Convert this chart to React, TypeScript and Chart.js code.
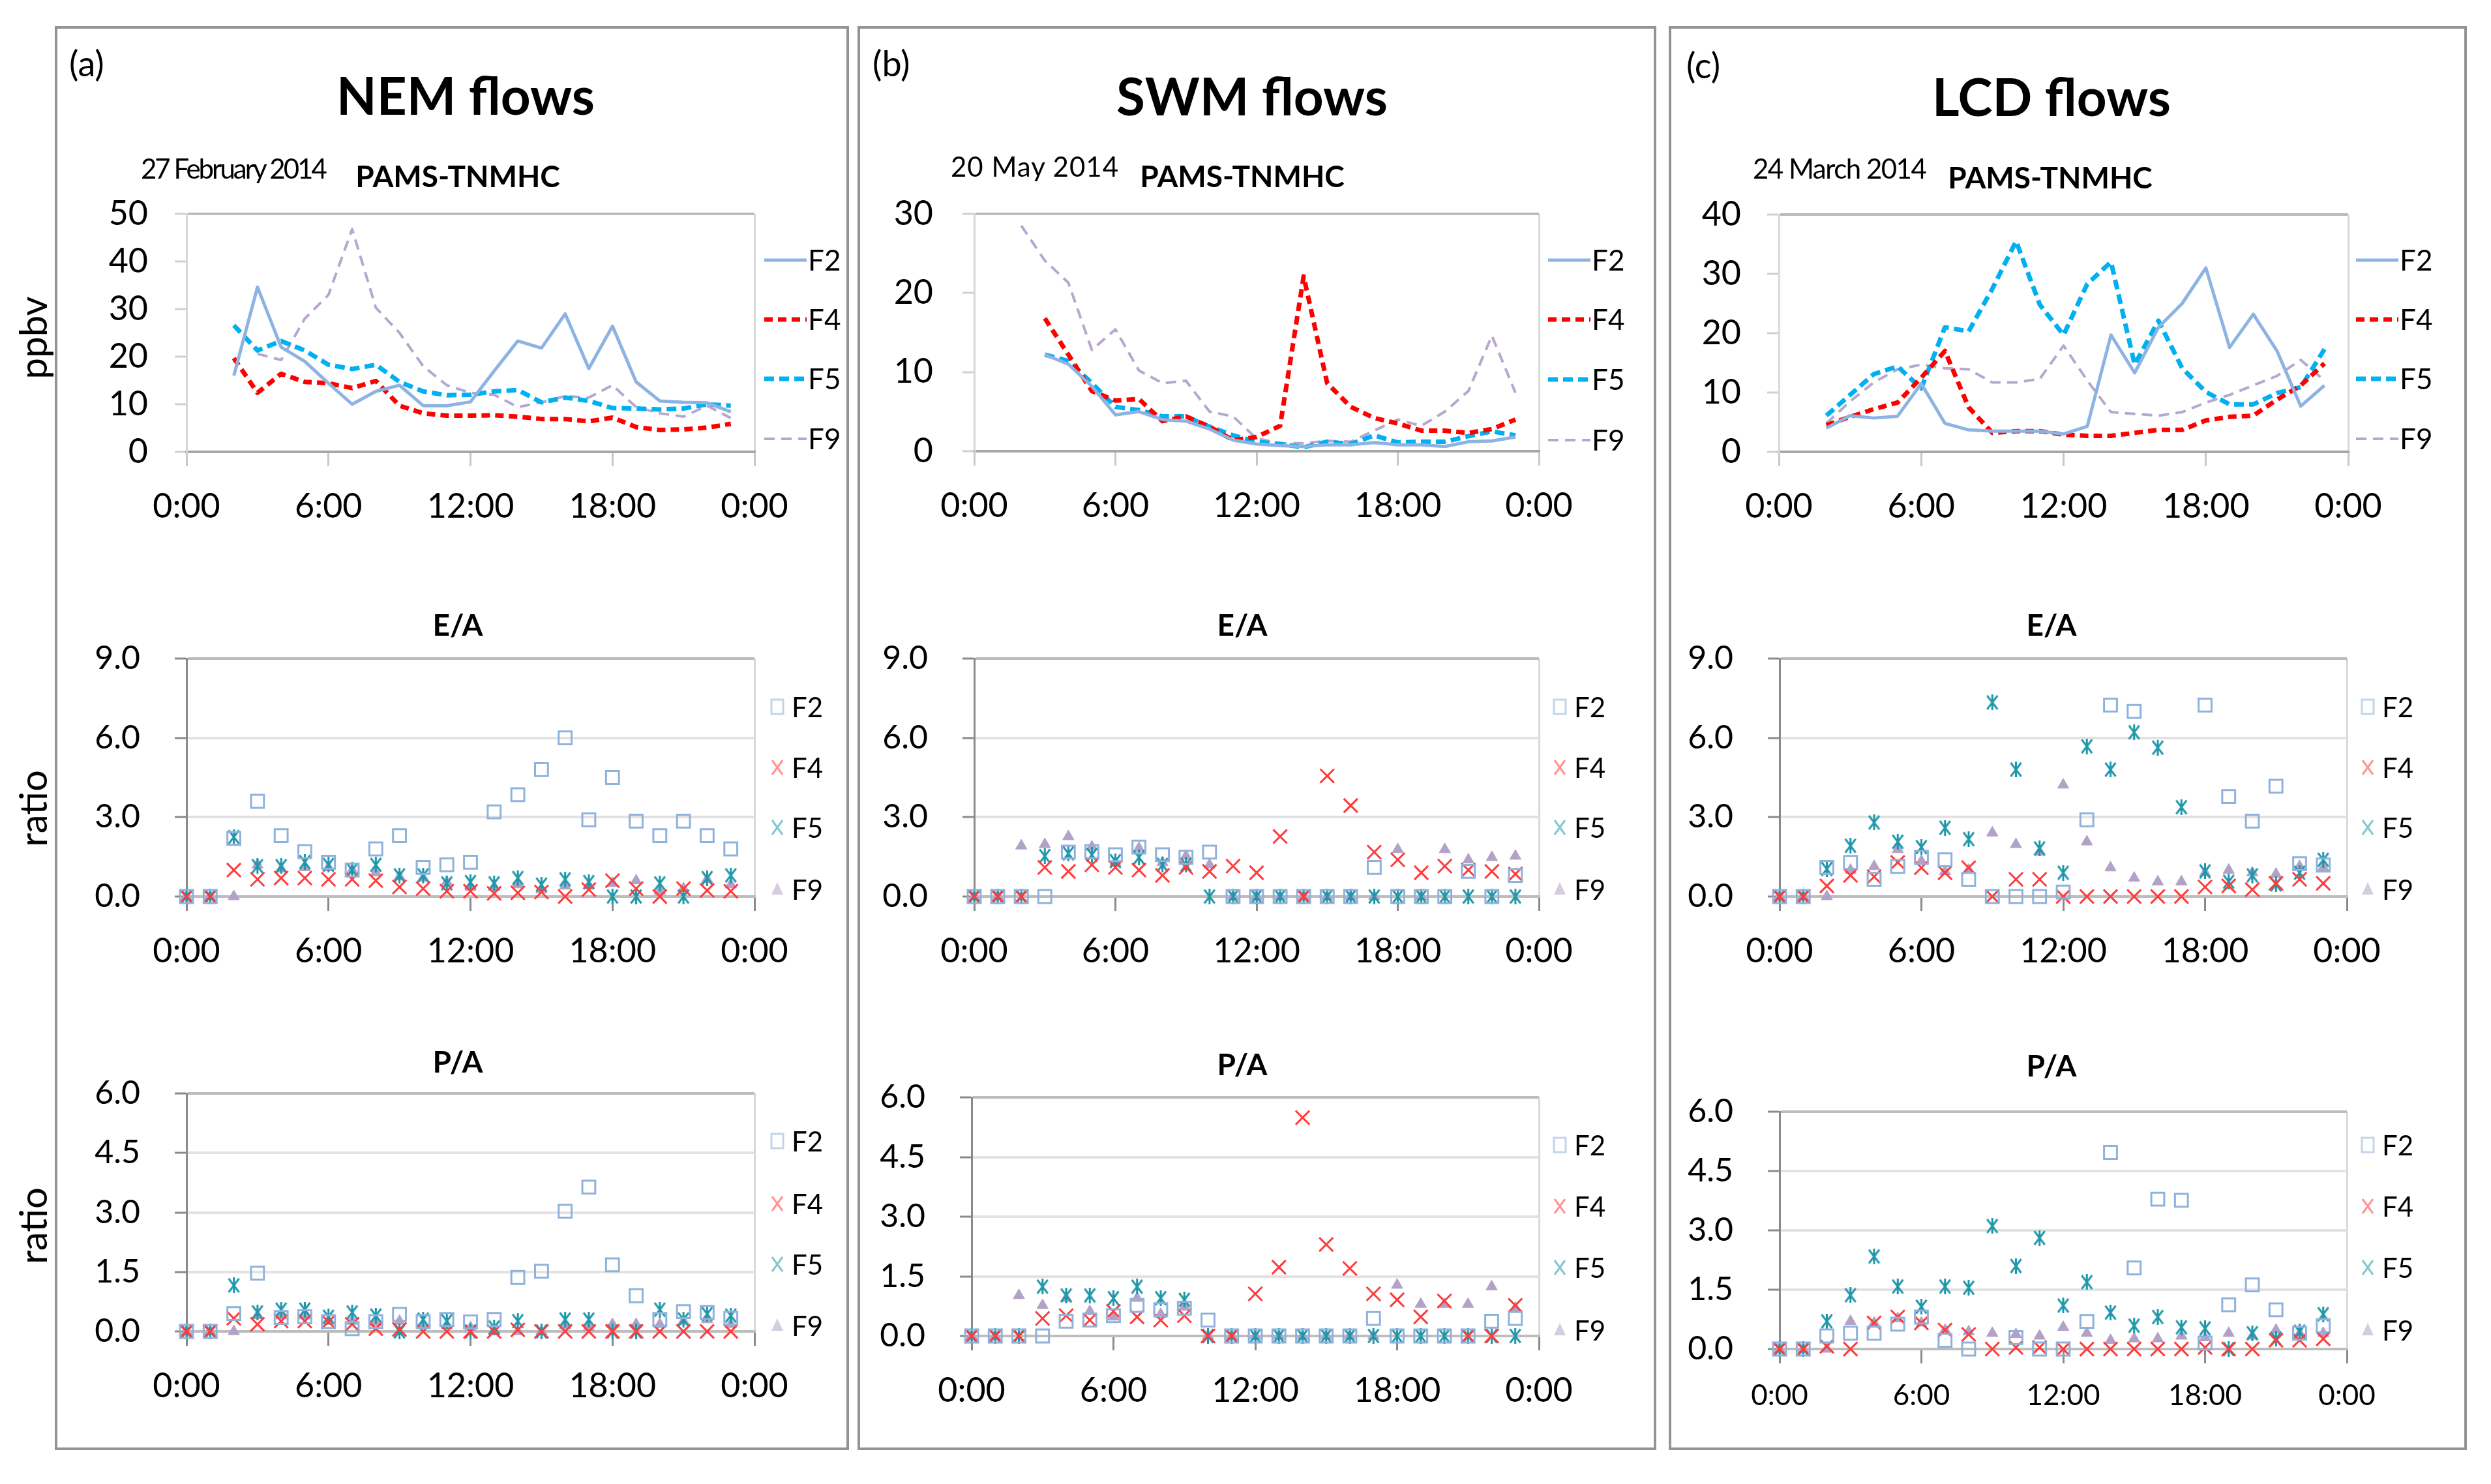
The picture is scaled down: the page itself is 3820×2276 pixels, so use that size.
import React, { useEffect, useRef } from 'react';
import { Chart, registerables } from 'chart.js';

Chart.register(...registerables);

const FONT = 'Lato, "Open Sans", sans-serif';

// ---------- shared categories / ticks ----------
const HOURS = [0, 1, 2, 3, 4, 5, 6, 7, 8, 9, 10, 11, 12, 13, 14, 15, 16, 17, 18, 19, 20, 21, 22, 23];
const X_TICK_VALUES = [0, 6, 12, 18, 24];
const X_TICK_LABELS = ['0:00', '6:00', '12:00', '18:00', '0:00'];
const SERIES_NAMES = ['F2', 'F4', 'F5', 'F9'];

const PANEL_LETTERS = ['(a)', '(b)', '(c)'];
const PANEL_TITLES = ['NEM flows', 'SWM flows', 'LCD flows'];
const PANEL_DATES = ['27 February 2014', '20 May 2014', '24 March 2014'];
const TOP_SUBTITLE = 'PAMS-TNMHC';
const EA_TITLE = 'E/A';
const PA_TITLE = 'P/A';

const NEM_Y_TICKS = [0, 10, 20, 30, 40, 50];
const SWM_Y_TICKS = [0, 10, 20, 30];
const LCD_Y_TICKS = [0, 10, 20, 30, 40];
const EA_Y_TICKS = [0, 3, 6, 9];
const PA_Y_TICKS = [0, 1.5, 3, 4.5, 6];

// ---------- (a) NEM, PAMS-TNMHC (ppbv) ----------
const NEM_F2 = [null, null, 16, 34.6, 22, 19, 14.4, 10, 12.7, 14, 9.7, 9.7, 10.5, 17, 23.3, 21.8, 29, 17.5, 26.4, 14.7, 10.7, 10.4, 10.3, 8.4];
const NEM_F4 = [null, null, 19.7, 12.4, 16.4, 14.7, 14.4, 13.4, 14.9, 9.7, 8.1, 7.6, 7.6, 7.7, 7.4, 6.9, 6.9, 6.4, 7.2, 5.2, 4.6, 4.7, 5.1, 5.9];
const NEM_F5 = [null, null, 26.6, 21.3, 23.3, 21.3, 18.3, 17.4, 18.3, 14.7, 12.7, 11.9, 12, 12.7, 13, 10.4, 11.4, 10.7, 9.2, 9.1, 8.9, 9.1, 10, 9.7];
const NEM_F9 = [null, null, null, 20.6, 19.3, 28, 33, 46.8, 30.3, 25, 18, 14, 12.4, 12, 9.4, 10.4, 11.7, 11.4, 14, 9.4, 8.1, 7.4, 9.7, 7.1];

// ---------- (b) SWM ----------
const SWM_F2 = [null, null, null, 12.2, 11, 8.2, 4.6, 5, 4, 3.8, 2.8, 1.4, 0.9, 0.7, 0.6, 0.8, 0.8, 1.1, 0.8, 0.8, 0.6, 1.2, 1.3, 1.8];
const SWM_F4 = [null, null, null, 16.8, 12.2, 7.6, 6.4, 6.6, 3.8, 4.4, 3.1, 1.4, 1.8, 3.2, 22.1, 8.6, 5.6, 4.2, 3.5, 2.6, 2.6, 2.3, 2.8, 4];
const SWM_F5 = [null, null, null, 12.2, 11.4, 8.6, 5.6, 5.2, 4.4, 4.4, 3.1, 2, 1.2, 0.9, 0.5, 1.2, 0.9, 2, 1.1, 1.2, 1.2, 1.9, 2.5, 2];
const SWM_F9 = [null, null, 28.5, 24.1, 21.3, 12.8, 15.4, 10.2, 8.6, 8.9, 5, 4.4, 1.6, 1, 1, 1.3, 1.2, 2.6, 4, 3.2, 5, 7.6, 14.6, 7.4];

// ---------- (c) LCD ----------
const LCD_F2 = [null, null, 4, 6.1, 5.7, 6, 11.5, 4.8, 3.7, 3.5, 3.5, 3.5, 3, 4.3, 19.7, 13.3, 21, 25, 31, 17.6, 23.2, 17, 7.7, 11.2];
const LCD_F4 = [null, null, 4.5, 5.9, 7.2, 8.3, 12.5, 17, 7.5, 3.2, 3.5, 3.5, 2.9, 2.7, 2.7, 3.2, 3.7, 3.7, 5.3, 5.9, 6.1, 8.8, 11.2, 14.9];
const LCD_F5 = [null, null, 6.1, 9.6, 13.1, 14.4, 10.7, 21, 20.3, 27.5, 35.5, 24.8, 19.7, 28.3, 32, 14.7, 22.1, 14.1, 10.1, 8, 8, 9.9, 10.9, 17.3];
const LCD_F9 = [null, null, 4.8, 8.5, 11.7, 13.9, 14.7, 14.1, 13.9, 11.7, 11.7, 12.3, 17.9, 12, 6.7, 6.4, 6.1, 6.7, 8.3, 9.6, 11.2, 12.8, 15.5, 12];

// ---------- E/A ratios ----------
const NEM_EA_F2 = [0, 0, 2.2, 3.6, 2.3, 1.7, 1.3, 1.0, 1.8, 2.3, 1.1, 1.2, 1.3, 3.2, 3.85, 4.8, 6.0, 2.9, 4.5, 2.85, 2.3, 2.85, 2.3, 1.8];
const NEM_EA_F4 = [0, 0, 1.0, 0.65, 0.7, 0.7, 0.65, 0.65, 0.6, 0.36, 0.3, 0.2, 0.2, 0.12, 0.14, 0.17, 0, 0.26, 0.6, 0.3, 0, 0.3, 0.23, 0.2];
const NEM_EA_F5 = [0, 0, 2.25, 1.15, 1.15, 1.3, 1.2, 1.0, 1.2, 0.8, 0.8, 0.5, 0.55, 0.5, 0.7, 0.45, 0.65, 0.55, 0, 0, 0.5, 0, 0.7, 0.8];
const NEM_EA_F9 = [0, 0, 0, 1.2, 1.05, 1.1, 1.1, 1.0, 0.9, 0.75, 0.7, 0.55, 0.36, 0.36, 0.45, 0.26, 0.4, 0.4, 0.5, 0.6, 0.2, 0.3, 0.65, 0.45];

const SWM_EA_F2 = [0, 0, 0, 0, 1.68, 1.7, 1.58, 1.87, 1.58, 1.48, 1.68, 0, 0, 0, 0, 0, 0, 1.1, 0, 0, 0, 0.95, 0, 0.8];
const SWM_EA_F4 = [0, 0, 0, 1.1, 0.95, 1.2, 1.1, 1.0, 0.8, 1.1, 0.95, 1.15, 0.9, 2.27, 0, 4.56, 3.44, 1.68, 1.39, 0.9, 1.15, 1.0, 0.95, 0.85];
const SWM_EA_F5 = [0, 0, 0, 1.53, 1.63, 1.58, 1.34, 1.48, 1.2, 1.2, 0, 0, 0, 0, 0, 0, 0, 0, 0, 0, 0, 0, 0, 0];
const SWM_EA_F9 = [0, 0, 1.92, 1.97, 2.27, 1.88, 1.29, 1.83, 1.29, 1.53, 1.2, 0, 0, 0, 0, 0, 0, 0, 1.78, 0, 1.78, 1.39, 1.48, 1.53];

const LCD_EA_F2 = [0, 0, 1.1, 1.29, 0.65, 1.14, 1.48, 1.39, 0.65, 0, 0, 0, 0.17, 2.9, 7.24, 7.0, null, null, 7.24, 3.78, 2.85, 4.17, 1.24, 1.19];
const LCD_EA_F4 = [0, 0, 0.4, 0.8, 0.75, 1.29, 1.09, 0.9, 1.09, 0, 0.65, 0.65, 0, 0, 0, 0, 0, 0, 0.36, 0.4, 0.26, 0.5, 0.65, 0.5];
const LCD_EA_F5 = [0, 0, 1.04, 1.92, 2.8, 2.07, 1.87, 2.6, 2.17, 7.34, 4.8, 1.82, 0.9, 5.68, 4.8, 6.21, 5.63, 3.38, 0.95, 0.56, 0.8, 0.46, 0.9, 1.39];
const LCD_EA_F9 = [0, 0, 0, 1.0, 1.14, 1.78, 1.34, 0.95, 1.0, 2.41, 1.97, 1.68, 4.22, 2.07, 1.09, 0.7, 0.56, 0.56, 0.9, 1.0, 0.9, 0.85, 1.14, 1.09];

// ---------- P/A ratios ----------
const NEM_PA_F2 = [0, 0, 0.45, 1.47, 0.35, 0.37, 0.25, 0.07, 0.25, 0.43, 0.25, 0.3, 0.24, 0.3, 1.36, 1.52, 3.03, 3.64, 1.68, 0.9, 0.3, 0.5, 0.48, 0.33];
const NEM_PA_F4 = [0, 0, 0.33, 0.18, 0.26, 0.26, 0.24, 0.18, 0.07, 0.05, 0, 0, 0, 0, 0.04, 0, 0, 0, 0, 0, 0, 0, 0, 0];
const NEM_PA_F5 = [0, 0, 1.16, 0.48, 0.55, 0.55, 0.37, 0.48, 0.4, 0, 0.3, 0.26, 0, 0.1, 0.26, 0, 0.3, 0.3, 0, 0, 0.55, 0.3, 0.44, 0.4];
const NEM_PA_F9 = [0, 0, 0, 0.4, 0.4, 0.4, 0.26, 0.26, 0.22, 0.26, 0.18, 0.15, 0.1, 0, 0, 0, 0.15, 0.1, 0.18, 0.18, 0.18, 0.26, 0.3, 0.18];

const SWM_PA_F2 = [0, 0, 0, 0, 0.37, 0.4, 0.51, 0.77, 0.66, 0.7, 0.4, 0, 0, 0, 0, 0, 0, 0.44, 0, 0, 0, 0, 0.37, 0.44];
const SWM_PA_F4 = [0, 0, 0, 0.44, 0.51, 0.4, 0.62, 0.48, 0.4, 0.51, 0, 0, 1.06, 1.73, 5.49, 2.3, 1.7, 1.06, 0.91, 0.48, 0.88, 0, 0, 0.77];
const SWM_PA_F5 = [0, 0, 0, 1.24, 1.02, 1.02, 0.95, 1.24, 0.95, 0.91, 0, 0, 0, 0, 0, 0, 0, 0, 0, 0, 0, 0, 0, 0];
const SWM_PA_F9 = [0, 0, 1.02, 0.77, 0.95, 0.62, 0.48, 0.95, 0.55, 0.73, 0, 0, 0, 0, 0, 0, 0, 0, 1.28, 0.8, 0.8, 0.8, 1.24, 0.7];

const LCD_PA_F2 = [0, 0, 0.33, 0.4, 0.4, 0.63, 0.81, 0.22, 0, null, 0.29, 0, 0, 0.7, 4.97, 2.05, 3.79, 3.76, 0.15, 1.12, 1.62, 0.99, 0.4, 0.59];
const LCD_PA_F4 = [0, 0, 0.07, 0, 0.66, 0.81, 0.66, 0.48, 0.37, 0, 0.04, 0.04, 0, 0, 0, 0, 0, 0, 0.04, 0, 0, 0.22, 0.22, 0.26];
const LCD_PA_F5 = [0, 0, 0.7, 1.36, 2.34, 1.58, 1.07, 1.58, 1.55, 3.11, 2.1, 2.81, 1.1, 1.69, 0.92, 0.59, 0.81, 0.55, 0.52, 0, 0.4, 0.26, 0.44, 0.88];
const LCD_PA_F9 = [0, 0, 0, 0.7, 0.66, 0.77, 0.66, 0.48, 0.44, 0.4, 0.37, 0.33, 0.55, 0.4, 0.22, 0.26, 0.26, 0.33, 0.29, 0.4, 0.33, 0.48, 0.4, 0.4];

// ---------- styles ----------
const LINE_STYLE = [
  { color: '#8DB3E2', width: 5, dash: [] as number[] },
  { color: '#FF0000', width: 7, dash: [13, 8] },
  { color: '#00B0F0', width: 7, dash: [15, 8] },
  { color: '#B7A6CF', width: 4, dash: [16, 10] },
];
const MARK_COLORS = ['#8FB2DC', '#FF3B3B', '#1F97AA', '#B3A2C7'];

// canvas frame around chart area
const YW = 160;
const PT = 120;
const XH = 130;
const PR = 200;

type Spec = {
  kind: 'line' | 'scatter';
  area: [number, number, number, number];
  yTicks: number[];
  yDec: number;
  series: (number | null)[][];
  legendX: number;
  legendYs: number[];
  yPad: number;
  xFont?: number;
  xPad?: number;
};

function makeStar(color: string, w: number, h: number, lw: number): HTMLCanvasElement {
  const c = document.createElement('canvas');
  c.width = w;
  c.height = h;
  const g = c.getContext('2d')!;
  g.strokeStyle = color;
  g.lineWidth = lw;
  g.beginPath();
  g.moveTo(lw / 2, lw / 2);
  g.lineTo(w - lw / 2, h - lw / 2);
  g.moveTo(w - lw / 2, lw / 2);
  g.lineTo(lw / 2, h - lw / 2);
  g.moveTo(w / 2, 0);
  g.lineTo(w / 2, h);
  g.stroke();
  return c;
}

function drawMarker(ctx: CanvasRenderingContext2D, i: number, x: number, y: number) {
  const col = MARK_COLORS[i];
  ctx.save();
  ctx.globalAlpha = 0.55;
  ctx.lineWidth = 3;
  ctx.strokeStyle = col;
  ctx.fillStyle = col;
  ctx.setLineDash([]);
  ctx.beginPath();
  if (i === 0) {
    ctx.strokeRect(x - 9, y - 11, 18, 22);
  } else if (i === 1 || i === 2) {
    ctx.moveTo(x - 8, y - 11); ctx.lineTo(x + 8, y + 11);
    ctx.moveTo(x + 8, y - 11); ctx.lineTo(x - 8, y + 11);
    ctx.stroke();
  } else {
    ctx.moveTo(x, y - 11); ctx.lineTo(x + 9, y + 8); ctx.lineTo(x - 9, y + 8); ctx.closePath();
    ctx.fill();
  }
  ctx.restore();
}

const sideLegend = {
  id: 'sideLegend',
  afterDraw(chart: any, _args: any, opts: any) {
    const ctx: CanvasRenderingContext2D = chart.ctx;
    ctx.save();
    ctx.textBaseline = 'middle';
    ctx.textAlign = 'left';
    ctx.fillStyle = '#000';
    SERIES_NAMES.forEach((name, i) => {
      const y = opts.legendYs[i] - opts.oy;
      const x = opts.legendX - opts.ox;
      if (opts.kind === 'line') {
        const st = LINE_STYLE[i];
        ctx.save();
        ctx.strokeStyle = st.color;
        ctx.lineWidth = st.width;
        ctx.setLineDash(st.dash);
        ctx.beginPath();
        ctx.moveTo(x, y);
        ctx.lineTo(x + 65, y);
        ctx.stroke();
        ctx.restore();
        ctx.font = `44px ${FONT}`;
        ctx.fillStyle = '#000';
        ctx.fillText(name, x + 67, y + 2);
      } else {
        drawMarker(ctx, i, x, y);
        ctx.font = `42px ${FONT}`;
        ctx.fillStyle = '#000';
        ctx.fillText(name, x + 22, y + 2);
      }
    });
    ctx.restore();
  },
};

function ChartBox({ spec }: { spec: Spec }) {
  const ref = useRef<HTMLCanvasElement>(null);
  const [l, t, r, b] = spec.area;
  const cw = r - l + YW + PR;
  const ch = b - t + PT + XH;
  const ox = l - YW;
  const oy = t - PT;

  useEffect(() => {
    const isLine = spec.kind === 'line';
    const yMax = spec.yTicks[spec.yTicks.length - 1];
    const star = makeStar(MARK_COLORS[2], 19, 24, 3);

    const datasets = spec.series.map((vals, i) => {
      const data = HOURS.map((h, k) => ({ x: h, y: vals[k] })).filter((p) => p.y !== null);
      if (isLine) {
        const st = LINE_STYLE[i];
        return {
          label: SERIES_NAMES[i],
          data,
          borderColor: st.color,
          borderWidth: st.width,
          borderDash: st.dash,
          pointRadius: 0,
          tension: 0,
          fill: false,
          clip: false as any,
          borderJoinStyle: 'round' as const,
        };
      }
      const base: any = { label: SERIES_NAMES[i], data, clip: false, pointHoverRadius: 0 };
      if (i === 0) Object.assign(base, { pointStyle: 'rect', pointRadius: 14, borderColor: MARK_COLORS[0], backgroundColor: 'rgba(0,0,0,0)', borderWidth: 3 });
      if (i === 1) Object.assign(base, { pointStyle: 'crossRot', pointRadius: 15, borderColor: MARK_COLORS[1], backgroundColor: MARK_COLORS[1], borderWidth: 3 });
      if (i === 2) Object.assign(base, { pointStyle: star, pointRadius: 12, borderColor: MARK_COLORS[2], backgroundColor: MARK_COLORS[2] });
      if (i === 3) Object.assign(base, { pointStyle: 'triangle', pointRadius: 10, borderColor: MARK_COLORS[3], backgroundColor: MARK_COLORS[3], borderWidth: 1 });
      return base;
    });

    const padding = { top: PT, right: PR, left: 0, bottom: 0 };

    const chart = new Chart(ref.current!, {
      type: isLine ? 'line' : 'scatter',
      data: { datasets },
      plugins: [sideLegend as any],
      options: {
        animation: false,
        responsive: false,
        devicePixelRatio: 1,
        events: [],
        layout: { autoPadding: false, padding },
        plugins: {
          legend: { display: false },
          title: { display: false },
          tooltip: { enabled: false },
          sideLegend: { kind: spec.kind, legendX: spec.legendX, legendYs: spec.legendYs, ox, oy },
        } as any,
        scales: {
          x: {
            type: 'linear',
            min: 0,
            max: 24,
            afterFit: (s: any) => { s.height = XH; },
            afterBuildTicks: (s: any) => { s.ticks = X_TICK_VALUES.map((v) => ({ value: v })); },
            ticks: {
              autoSkip: false,
              maxRotation: 0,
              padding: spec.xPad ?? 31,
              color: '#000',
              font: { family: FONT, size: spec.xFont ?? 52 },
              callback: (v: any) => X_TICK_LABELS[X_TICK_VALUES.indexOf(Number(v))] ?? '',
            },
            grid: {
              display: true,
              drawOnChartArea: true,
              drawTicks: true,
              tickLength: 22,
              tickWidth: 3,
              tickColor: isLine ? '#c8c8c8' : '#8a8a8a',
              lineWidth: 3,
              color: (c: any) => (c.tick && c.tick.value === 24 ? '#d9d9d9' : 'rgba(0,0,0,0)'),
            },
            border: { display: true, color: isLine ? '#a6a6a6' : '#bdbdbd', width: 4 },
          },
          y: {
            type: 'linear',
            min: 0,
            max: yMax,
            afterFit: (s: any) => { s.width = YW; },
            afterBuildTicks: (s: any) => { s.ticks = spec.yTicks.map((v) => ({ value: v })); },
            ticks: {
              padding: spec.yPad,
              color: '#000',
              font: { family: FONT, size: isLine ? 52 : 50 },
              callback: (v: any) => Number(v).toFixed(spec.yDec),
            },
            grid: {
              display: true,
              drawOnChartArea: true,
              drawTicks: true,
              tickLength: 18,
              tickWidth: 3,
              tickColor: isLine ? '#d0d0d0' : '#8a8a8a',
              lineWidth: 4,
              color: (c: any) => {
                const v = c.tick ? c.tick.value : -1;
                if (v === yMax) return '#bcbcbc';
                if (isLine || v === 0) return 'rgba(0,0,0,0)';
                return '#e2e2e2';
              },
            },
            border: { display: true, color: isLine ? '#d9d9d9' : '#8a8a8a', width: 3 },
          },
        },
      } as any,
    });

    // make the plot area (the scales' pixel range) land where the reference has it
    const want = { left: YW, top: PT, right: cw - PR, bottom: ch - XH };
    for (let k = 0; k < 5; k++) {
      const ys: any = chart.scales.y;
      const xs: any = chart.scales.x;
      const top = ys.getPixelForValue(yMax);
      const bottom = ys.getPixelForValue(0);
      const left = xs.getPixelForValue(0);
      const right = xs.getPixelForValue(24);
      const dl = want.left - left;
      const dt = want.top - top;
      const dr = right - want.right;
      const db = bottom - want.bottom;
      if (Math.abs(dl) < 0.5 && Math.abs(dt) < 0.5 && Math.abs(dr) < 0.5 && Math.abs(db) < 0.5) break;
      const p: any = (chart.config.options as any).layout.padding;
      p.left += dl;
      p.top += dt;
      p.right += dr;
      p.bottom += db;
      chart.update();
    }
    return () => chart.destroy();
  }, []);

  return (
    <canvas
      ref={ref}
      width={cw}
      height={ch}
      style={{ position: 'absolute', left: ox, top: oy, width: cw, height: ch }}
    />
  );
}

const TOP_LEG = [399, 490, 581, 673];
const EA_LEG = [1084, 1177, 1269, 1364];

const SPECS: Spec[] = [
  { kind: 'line', area: [286, 328, 1157, 693], yTicks: NEM_Y_TICKS, yDec: 0, series: [NEM_F2, NEM_F4, NEM_F5, NEM_F9], legendX: 1172, legendYs: TOP_LEG, yPad: 41 },
  { kind: 'scatter', area: [286, 1010, 1157, 1375], yTicks: EA_Y_TICKS, yDec: 1, series: [NEM_EA_F2, NEM_EA_F4, NEM_EA_F5, NEM_EA_F9], legendX: 1192, legendYs: EA_LEG, yPad: 53 },
  { kind: 'scatter', area: [286, 1677, 1157, 2042], yTicks: PA_Y_TICKS, yDec: 1, series: [NEM_PA_F2, NEM_PA_F4, NEM_PA_F5, NEM_PA_F9], legendX: 1192, legendYs: [1750, 1846, 1939, 2033], yPad: 53 },
  { kind: 'line', area: [1494, 328, 2360, 692], yTicks: SWM_Y_TICKS, yDec: 0, series: [SWM_F2, SWM_F4, SWM_F5, SWM_F9], legendX: 2374, legendYs: [399, 490, 582, 675], yPad: 45 },
  { kind: 'scatter', area: [1494, 1010, 2360, 1375], yTicks: EA_Y_TICKS, yDec: 1, series: [SWM_EA_F2, SWM_EA_F4, SWM_EA_F5, SWM_EA_F9], legendX: 2392, legendYs: EA_LEG, yPad: 53 },
  { kind: 'scatter', area: [1490, 1683, 2360, 2049], yTicks: PA_Y_TICKS, yDec: 1, series: [SWM_PA_F2, SWM_PA_F4, SWM_PA_F5, SWM_PA_F9], legendX: 2392, legendYs: [1756, 1850, 1944, 2040], yPad: 53 },
  { kind: 'line', area: [2728, 329, 3601, 693], yTicks: LCD_Y_TICKS, yDec: 0, series: [LCD_F2, LCD_F4, LCD_F5, LCD_F9], legendX: 3613, legendYs: TOP_LEG, yPad: 40 },
  { kind: 'scatter', area: [2729, 1010, 3599, 1375], yTicks: EA_Y_TICKS, yDec: 1, series: [LCD_EA_F2, LCD_EA_F4, LCD_EA_F5, LCD_EA_F9], legendX: 3631, legendYs: EA_LEG, yPad: 53 },
  { kind: 'scatter', area: [2729, 1705, 3599, 2069], yTicks: PA_Y_TICKS, yDec: 1, series: [LCD_PA_F2, LCD_PA_F4, LCD_PA_F5, LCD_PA_F9], legendX: 3631, legendYs: [1756, 1850, 1944, 2040], yPad: 53, xFont: 44, xPad: 23 },
];

type TxtProps = { x: number; y: number; size: number; bold?: boolean; left?: boolean; rotate?: boolean; ls?: number; children: React.ReactNode };
function Txt({ x, y, size, bold, left, rotate, ls, children }: TxtProps) {
  return (
    <div
      style={{
        position: 'absolute',
        left: x,
        top: y,
        fontSize: size,
        fontWeight: bold ? 700 : 400,
        fontFamily: FONT,
        lineHeight: 1,
        whiteSpace: 'nowrap',
        letterSpacing: ls ?? 0,
        color: '#000',
        transform: `translate(${left ? '0' : '-50%'}, -50%)${rotate ? ' rotate(-90deg)' : ''}`,
      }}
    >
      {children}
    </div>
  );
}

const PANEL_BOXES = [
  [84, 40, 1302, 2224],
  [1315, 40, 2540, 2224],
  [2559, 40, 3783, 2224],
];
const LETTER_POS = [[106, 97], [1338, 97], [2586, 100]];
const TITLE_POS = [[714, 145], [1920, 146], [3146, 147]];
const DATE_POS = [[216, 258, -3], [1458, 255, 1], [2688, 258, -1.5]];
const SUB_POS = [[702, 270], [1905, 270], [3144, 272]];
const EA_POS = [[702, 958], [1905, 958], [3146, 958]];
const PA_POS = [[702, 1628], [1905, 1632], [3146, 1634]];

export default function App() {
  return (
    <div style={{ position: 'absolute', left: 0, top: 0, width: 3820, height: 2276, background: '#fff', overflow: 'hidden' }}>
      {PANEL_BOXES.map(([l, t, r, b], i) => (
        <div
          key={'box' + i}
          style={{ position: 'absolute', left: l, top: t, width: r - l, height: b - t, border: '4px solid #939393', boxSizing: 'border-box' }}
        />
      ))}
      {SPECS.map((s, i) => (
        <ChartBox key={'c' + i} spec={s} />
      ))}
      {PANEL_LETTERS.map((s, i) => (
        <Txt key={'l' + i} x={LETTER_POS[i][0]} y={LETTER_POS[i][1]} size={54} left>{s}</Txt>
      ))}
      {PANEL_TITLES.map((s, i) => (
        <Txt key={'t' + i} x={TITLE_POS[i][0]} y={TITLE_POS[i][1]} size={80} bold>{s}</Txt>
      ))}
      {PANEL_DATES.map((s, i) => (
        <Txt key={'d' + i} x={DATE_POS[i][0]} y={DATE_POS[i][1]} size={42} left ls={DATE_POS[i][2]}>{s}</Txt>
      ))}
      {SUB_POS.map((p, i) => (
        <Txt key={'s' + i} x={p[0]} y={p[1]} size={46} bold>{TOP_SUBTITLE}</Txt>
      ))}
      {EA_POS.map((p, i) => (
        <Txt key={'e' + i} x={p[0]} y={p[1]} size={46} bold>{EA_TITLE}</Txt>
      ))}
      {PA_POS.map((p, i) => (
        <Txt key={'p' + i} x={p[0]} y={p[1]} size={46} bold>{PA_TITLE}</Txt>
      ))}
      <Txt x={50} y={518} size={58} rotate>ppbv</Txt>
      <Txt x={50} y={1240} size={58} rotate>ratio</Txt>
      <Txt x={50} y={1880} size={58} rotate>ratio</Txt>
    </div>
  );
}
